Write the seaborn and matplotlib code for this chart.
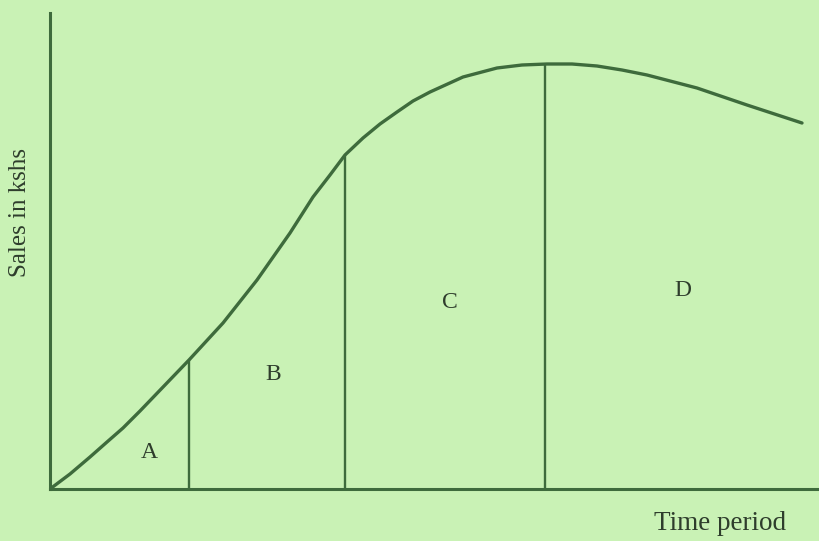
import numpy as np
import pandas as pd
import seaborn as sns
import matplotlib.pyplot as plt

# Curva del ciclo de vida (unidades arbitrarias)
tiempo = [0.0, 2.0, 4.0, 5.7, 7.3, 9.0, 13.9, 17.3, 20.7, 24.0, 26.3,
          28.0, 29.5, 31.3, 33.0, 34.7, 36.3, 38.0, 41.3, 44.7, 47.2,
          49.7, 52.2, 54.7, 57.2, 59.7, 64.7, 69.7, 75.2]
ventas = [0.0, 1.5, 3.2, 4.7, 6.1, 7.8, 12.9, 16.6, 20.9, 25.6, 29.2,
          31.4, 33.4, 35.1, 36.5, 37.7, 38.8, 39.7, 41.2, 42.1, 42.4,
          42.5, 42.5, 42.3, 41.9, 41.4, 40.1, 38.4, 36.6]

# Límites entre etapas y etiquetas
limites = [13.9, 29.5, 49.5]
etapas = ['A', 'B', 'C', 'D']
etapa_x = [9.9, 22.3, 40.0, 63.3]
etapa_y = [3.7, 11.4, 18.7, 19.9]

fondo = '#c9f2b5'
tinta = '#3e6b3c'
texto = '#2e3d2c'

sns.set_style('white')
plt.rcParams['font.family'] = ['Liberation Serif', 'DejaVu Serif']

fig = plt.figure(figsize=(8.19, 5.41), dpi=100, facecolor=fondo)
ax = fig.add_axes([50 / 819, (541 - 489) / 541, 769 / 819, 476 / 541])
ax.set_facecolor(fondo)

df = pd.DataFrame({'Tiempo': tiempo, 'Ventas': ventas})
sns.lineplot(data=df, x='Tiempo', y='Ventas', ax=ax, color=tinta, linewidth=2.4)

# Líneas verticales desde la curva hasta el eje
alturas = np.interp(limites, tiempo, ventas)
ax.vlines(limites, 0, alturas, color=tinta, linewidth=1.7)

for letra, x, y in zip(etapas, etapa_x, etapa_y):
    ax.text(x, y, letra, fontsize=17, color=texto, ha='center', va='center')

ax.set_xlim(0, 76.9)
ax.set_ylim(0, 47.6)
ax.set_xticks([])
ax.set_yticks([])
ax.set_xlabel('')
ax.set_ylabel('')
for lado in ['top', 'right']:
    ax.spines[lado].set_visible(False)
for lado in ['left', 'bottom']:
    ax.spines[lado].set_color(tinta)
    ax.spines[lado].set_linewidth(2.2)

fig.text(720 / 819, 1 - 523 / 541, 'Time period', fontsize=19.5, color=texto,
         ha='center', va='center')
fig.text(20 / 819, 1 - 212 / 541, 'Sales in kshs', fontsize=18, color=texto,
         ha='center', va='center', rotation=90)

fig.savefig('out.png', dpi=100, facecolor=fondo)
